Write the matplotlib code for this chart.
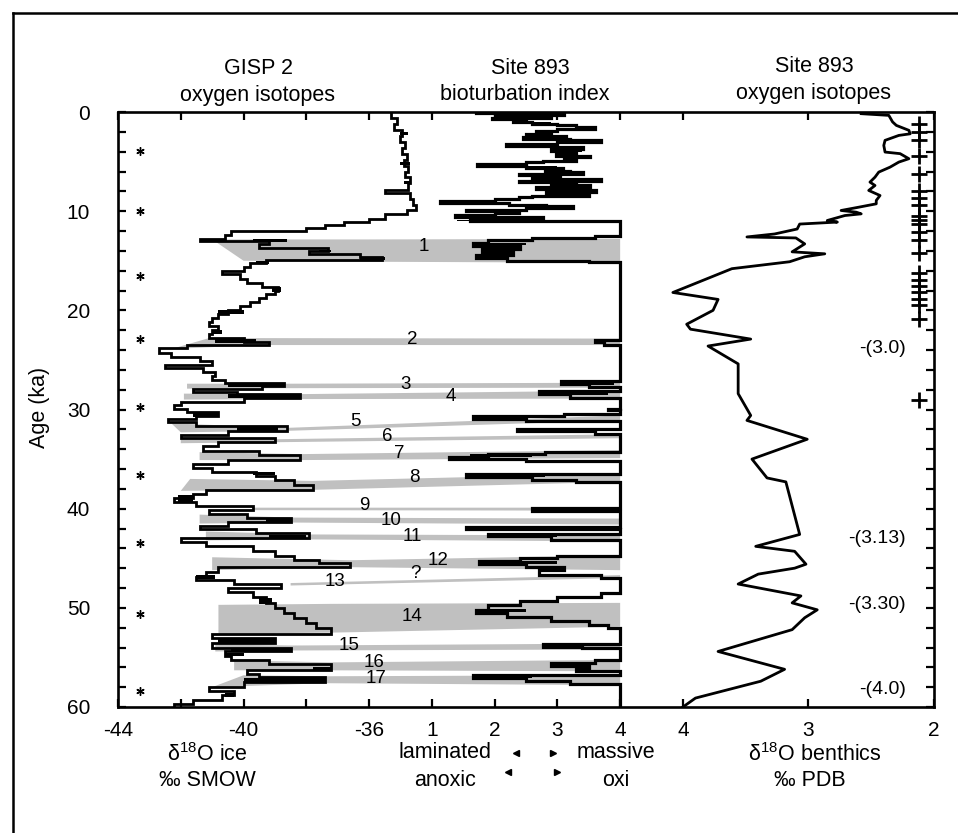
import numpy as np
import matplotlib
matplotlib.use("Agg")
import matplotlib.pyplot as plt
from matplotlib.lines import Line2D

plt.rcParams['font.family'] = ['Liberation Sans', 'DejaVu Sans']
plt.rcParams['mathtext.fontset'] = 'custom'
plt.rcParams['mathtext.rm'] = 'Liberation Sans'
plt.rcParams['mathtext.it'] = 'Liberation Sans'

# ---------------- data ----------------
# GISP2 d18O (per mil SMOW): step intervals (top age in ka, value)
gisp_age_top = [0.0,0.6,1.2,1.8,2.4,3.0,3.6,4.2,4.8,5.4,6.0,6.6,7.2,7.9,8.2,8.8,9.4,9.9,10.3,10.8,
                11.1,11.4,11.7,12.0,12.4,12.8,13.0,13.3,13.7,14.0,14.3,14.6,14.9,15.2,15.6,16.0,16.3,16.8,17.2,17.6,
                18.0,18.4,18.8,19.2,19.6,20.0,20.4,20.8,21.2,21.6,22.0,22.4,22.8,23.2,23.5,23.8,24.3,24.7,25.1,25.5,
                25.8,26.2,26.6,27.0,27.3,27.6,27.9,28.2,28.4,28.8,29.2,29.5,29.9,30.3,30.7,31.0,31.3,31.7,32.2,32.6,
                32.9,33.3,33.7,34.2,34.6,35.1,35.5,35.9,36.3,36.7,37.1,37.6,38.1,38.5,38.9,39.3,39.7,40.1,40.5,40.9,
                41.3,41.7,42.0,42.5,43.0,43.4,43.8,44.3,44.8,45.2,45.5,45.9,46.4,46.9,47.2,47.6,48.0,48.4,48.9,49.5,
                50.0,50.5,51.0,51.5,52.0,52.6,53.0,53.5,54.0,54.4,54.9,55.3,55.7,56.3,56.7,57.0,57.5,58.0,58.4,58.8,
                59.3,59.7]
gisp_d18o = [-35.3,-35.1,-35.2,-34.95,-35.0,-34.85,-34.95,-34.8,-34.9,-34.75,-34.85,-34.7,-34.75,-35.5,-34.7,-34.6,-34.5,-34.8,-35.5,-36.0,
             -36.8,-37.4,-38.0,-40.4,-40.6,-41.4,-39.2,-39.5,-37.3,-37.9,-36.3,-35.6,-39.3,-39.8,-40.0,-40.7,-40.1,-39.9,-39.4,-38.9,
             -39.0,-39.3,-39.5,-39.8,-40.1,-40.5,-40.8,-41.0,-41.1,-40.8,-41.0,-41.1,-40.0,-39.2,-41.8,-42.7,-42.3,-41.4,-41.0,-42.5,
             -41.3,-40.9,-41.0,-40.6,-38.7,-39.4,-41.6,-40.2,-38.2,-40.0,-42.0,-42.2,-41.8,-40.8,-41.5,-42.4,-41.5,-38.6,-40.5,-42.0,
             -39.0,-40.8,-41.3,-39.5,-38.2,-40.5,-41.6,-41.0,-39.6,-39.0,-38.4,-37.8,-41.2,-41.6,-42.2,-41.5,-39.7,-41.1,-39.9,-38.5,
             -40.5,-41.4,-39.6,-37.9,-42.0,-41.2,-39.7,-39.0,-38.4,-37.6,-36.6,-40.8,-41.2,-41.5,-40.3,-38.8,-40.5,-39.7,-39.3,-39.0,
             -38.7,-38.4,-38.0,-37.7,-37.2,-41.0,-39.0,-41.0,-38.5,-40.6,-40.4,-39.2,-37.2,-39.9,-39.5,-37.4,-40.0,-41.1,-40.3,-40.7,
             -41.6,-42.2]
gisp_age_end = 60.0

# dense-oscillation (solid black) segments of the GISP2 record
gblob_top   = [2.0,5.0,7.0,12.8,12.85,13.9,14.65,15.0,17.6,20.0,22.0,22.85,27.3,28.45,30.35,31.8,36.3,38.6,40.9,42.65,46.7,49.0,53.1,54.05,54.6,55.95,57.05,58.6]
gblob_bot   = [2.3,5.3,7.3,13.05,13.15,14.15,14.95,15.35,18.2,20.35,22.35,23.25,27.7,28.85,30.75,32.15,36.65,39.4,41.3,43.0,47.1,49.6,53.5,54.4,54.9,56.3,57.5,59.0]
gblob_left  = [-35.0,-35.0,-34.9,-41.4,-39.7,-37.6,-36.3,-39.6,-39.1,-40.8,-41.0,-40.9,-40.5,-40.5,-41.6,-40.2,-39.7,-42.1,-39.3,-39.2,-41.5,-39.5,-40.8,-40.4,-40.6,-37.8,-40.0,-40.6]
gblob_right = [-34.75,-34.7,-34.65,-40.7,-38.6,-37.2,-35.5,-39.2,-38.8,-40.0,-40.7,-39.6,-38.7,-38.2,-40.8,-38.9,-39.0,-41.6,-38.5,-38.0,-40.9,-39.1,-39.0,-38.5,-40.0,-37.2,-37.4,-40.3]

# Site 893 bioturbation index: step intervals (top age in ka, index 1-4)
bio_age_top = [0.0,0.15,0.3,0.45,0.6,0.75,0.9,1.05,1.2,1.35,1.5,1.7,1.9,2.05,2.2,2.4,2.55,2.7,2.85,3.05,
               3.2,3.4,3.55,3.75,3.9,4.1,4.25,4.4,4.56,4.75,4.9,5.07,5.25,5.4,5.6,5.75,5.9,6.05,6.24,6.4,
               6.58,6.75,6.91,7.1,7.25,7.4,7.6,7.75,7.9,8.1,8.26,8.45,8.6,8.76,8.95,9.2,9.35,9.5,9.67,9.85,
               10.0,10.15,10.35,10.55,10.8,10.95,12.5,12.7,12.95,13.2,13.5,13.8,14.1,14.4,14.7,15.0,15.15,23.0,23.2,23.5,
               27.15,27.4,27.7,28.15,28.45,28.8,29.9,30.1,30.5,30.7,30.95,31.15,32.0,32.2,32.5,34.3,34.5,34.8,35.0,35.2,
               36.55,36.8,37.1,37.3,39.95,40.2,41.8,42.0,42.1,42.6,42.8,43.2,44.8,45.0,45.3,45.6,45.9,46.2,46.7,47.0,
               48.5,48.9,49.3,49.7,50.2,50.5,50.9,51.3,51.7,52.0,53.6,53.9,54.1,55.3,55.6,55.9,56.2,56.4,56.8,57.1,
               57.4,57.7]
bio_index = [1.7,3.1,2.0,2.9,1.96,2.5,2.3,2.6,3.0,3.3,3.6,3.0,2.66,2.9,2.5,3.14,2.45,3.2,3.7,3.0,
             2.18,2.93,3.41,2.9,3.3,3.25,2.98,3.52,3.1,3.3,2.77,2.5,1.72,2.5,3.09,2.8,3.2,3.41,2.39,3.04,
             2.6,3.7,2.39,3.3,2.9,3.52,2.66,3.2,3.62,2.82,3.5,2.6,2.39,2.0,1.13,2.23,2.82,3.25,2.5,1.54,
             2.39,2.0,1.37,2.77,1.6,4.0,3.6,2.6,1.9,1.65,2.4,1.8,2.3,1.7,2.2,3.5,4.0,3.6,3.75,4.0,
             3.05,3.5,4.0,2.7,3.2,4.0,3.8,4.0,3.1,1.65,2.5,4.0,2.35,3.6,4.0,2.8,1.9,1.27,2.5,4.0,
             1.55,2.6,3.3,4.0,2.6,4.0,1.54,2.6,4.0,1.9,2.9,4.0,3.0,2.4,1.75,2.5,3.1,2.7,3.7,4.0,
             3.7,3.0,2.4,1.9,1.7,2.2,2.9,3.5,3.8,4.0,2.77,3.4,4.0,3.6,2.9,3.5,3.3,4.0,1.65,2.5,
             3.2,4.0]
bio_age_end = 60.0

# dense-oscillation (solid black) segments of the bioturbation record
bblob_top   = [0.05,1.05,2.6,3.95,4.2,5.45,6.25,7.35,7.55,8.05,10.65,10.85,13.2,13.8,14.45,27.3,28.3,30.7,34.5,36.6,42.7,45.3,50.1,56.85]
bblob_bot   = [0.2,1.17,2.72,4.08,4.32,5.57,6.37,7.47,7.67,8.17,10.77,10.95,13.4,14.0,14.65,27.5,28.55,30.9,34.8,36.8,42.9,45.6,50.45,57.1]
bblob_left  = [1.9,2.3,2.6,2.9,3.0,2.4,2.5,3.0,2.8,2.9,1.5,1.4,1.7,1.8,1.75,3.1,2.75,1.7,1.6,1.6,2.0,1.8,1.75,1.7]
bblob_right = [3.0,2.9,3.1,3.4,3.3,3.0,3.2,3.4,3.3,3.4,2.7,2.6,2.5,2.4,2.2,3.9,3.8,2.4,2.6,2.8,3.0,3.0,2.5,2.6]

# Site 893 benthic d18O (per mil PDB)
ben_age = [0.17,0.34,1.0,1.35,1.85,2.2,2.36,2.86,3.37,4.04,4.2,4.71,5.05,5.56,6.06,6.57,7.07,7.41,7.91,8.42,
           8.92,9.26,9.6,9.93,10.1,10.27,10.44,10.94,11.1,11.3,11.8,12.3,12.6,12.7,13.3,14.1,14.3,14.6,15.1,15.8,
           18.2,18.9,20.0,21.4,21.9,22.9,23.6,25.4,28.4,30.6,31.1,33.0,35.0,36.9,37.3,42.6,43.8,44.3,45.6,46.0,
           46.6,47.6,48.8,49.5,50.2,51.0,52.2,54.4,56.2,57.4,59.1,60.0]
ben_d18o = [2.58,2.36,2.33,2.30,2.20,2.19,2.28,2.39,2.40,2.39,2.27,2.20,2.28,2.35,2.44,2.47,2.51,2.47,2.52,2.43,
            2.46,2.46,2.60,2.74,2.62,2.58,2.71,2.85,2.77,3.07,3.09,3.27,3.49,3.10,3.03,3.13,2.87,3.03,3.15,3.61,
            4.08,3.72,3.76,3.97,3.94,3.46,3.80,3.56,3.56,3.46,3.49,3.01,3.45,3.33,3.18,3.07,3.42,3.11,3.02,3.11,
            3.40,3.56,3.06,3.13,2.93,3.03,3.13,3.72,3.19,3.38,3.90,4.00]

# radiocarbon dates (+) and GISP2 annual-layer markers (*)
date_age = [1.2,2.0,2.8,4.4,6.3,8.0,8.7,9.4,10.5,10.9,11.3,12.1,12.9,14.2,16.2,16.9,17.5,18.2,18.9,19.5,20.9,29.0]
date_pos = 2.12
star_age = [3.9,10.0,16.5,22.9,29.7,36.6,43.5,50.6,58.4]
star_pos = -43.3

# interstadial correlation bands 1-17
band_names  = ['1','2','3','4','5','6','7','8','9','10','11','12','13','14','15','16','17']
band_xl_top = [-41.0,-41.1,-41.8,-41.9,-42.3,-42.0,-41.4,-41.7,-39.7,-41.4,-41.2,-41.0,-38.5,-40.8,-40.9,-40.3,-40.0]
band_xl_bot = [-40.0,-42.3,-41.8,-41.9,-42.0,-42.0,-41.4,-42.0,-39.7,-41.4,-41.2,-41.0,-38.5,-40.8,-40.9,-40.3,-41.0]
band_age_tl = [12.85,22.8,27.4,28.4,31.4,32.8,34.3,37.0,39.9,40.6,42.3,44.9,47.5,49.7,53.7,55.3,56.8]
band_age_bl = [15.0,23.9,27.9,29.0,32.3,33.4,35.1,38.2,40.15,41.5,43.2,46.2,47.75,52.6,54.4,56.3,58.0]
band_xw     = [-36.0,-39.6,-38.7,-38.2,-38.6,-39.0,-38.2,-37.8,-39.7,-38.45,-37.9,-36.6,-38.5,-37.2,-38.45,-37.2,-37.4]
band_age_tw = [12.85,22.8,27.4,28.45,31.85,33.0,34.5,37.2,39.9,40.9,42.6,45.2,47.5,49.6,53.8,55.5,56.9]
band_age_bw = [15.1,23.5,27.85,28.95,32.15,33.3,35.1,38.1,40.15,41.4,43.1,45.9,47.75,52.5,54.3,56.3,57.6]
band_age_tr = [12.8,22.85,27.3,28.1,30.6,32.5,34.1,36.45,39.9,41.0,42.7,44.7,46.7,49.5,53.6,55.25,56.8]
band_age_br = [15.2,23.5,27.8,28.9,31.1,32.9,34.9,37.3,40.2,41.6,43.3,46.2,47.0,51.9,54.2,56.4,57.8]
band_lab_x  = [-34.25,-34.62,-34.83,-33.39,-36.43,-35.42,-35.04,-34.57,-36.16,-35.31,-34.62,-33.81,-37.07,-34.62,-36.64,-35.84,-35.79]
band_lab_age= [13.6,22.97,27.5,28.7,31.2,32.75,34.4,36.9,39.7,41.2,42.8,45.2,47.3,50.9,53.8,55.5,57.1]
query_x, query_age = -34.51, 46.5

# benthic stage values written at right
right_labels = ['-(3.0)', '-(3.13)', '-(3.30)', '-(4.0)']
right_label_age = [23.8, 43.0, 49.7, 58.2]

gisp_ticks = [-44, -42, -40, -38, -36]
gisp_ticklabels = ['-44', '', '-40', '', '-36']
bio_ticks = [1, 2, 3, 4]
ben_ticks = [4, 3, 2]

# --------- common x scale: GISP2 units; other panels mapped linearly ---------
def bio_to_x(b):
    return 2.0 * np.asarray(b, float) - 36.0      # 1 -> -34, 4 -> -28

def ben_to_x(d):
    return -10.0 - 4.0 * np.asarray(d, float)     # 4 -> -26, 2 -> -18

def step_xy(tops, vals, end):
    bounds = np.append(np.asarray(tops, float), end)
    y = np.repeat(bounds, 2)[1:-1]
    x = np.repeat(np.asarray(vals, float), 2)
    return x, y

W, H = 958, 833
fig = plt.figure(figsize=(W / 100, H / 100), dpi=100)
x0, x1, y0, y1 = 118, 934, 112, 707
ax = fig.add_axes([x0 / W, 1 - y1 / H, (x1 - x0) / W, (y1 - y0) / H])
ax.set_xlim(-44, -18)
ax.set_ylim(60, 0)

gray = '#c0c0c0'
xr = bio_to_x(4)
for i in range(len(band_names)):
    px = [band_xl_top[i], band_xw[i], xr, xr, band_xw[i], band_xl_bot[i]]
    py = [band_age_tl[i], band_age_tw[i], band_age_tr[i], band_age_br[i], band_age_bw[i], band_age_bl[i]]
    ax.fill(px, py, color=gray, lw=0, zorder=1)

# GISP2
gx, gy = step_xy(gisp_age_top, gisp_d18o, gisp_age_end)
ax.plot(gx, gy, color='k', lw=2.0, zorder=3, solid_joinstyle='miter')
for t, b, l, r in zip(gblob_top, gblob_bot, gblob_left, gblob_right):
    ax.fill_betweenx([t, b], l, r, color='k', lw=0, zorder=3)

# bioturbation
bx, by = step_xy(bio_age_top, bio_to_x(bio_index), bio_age_end)
ax.plot(bx, by, color='k', lw=2.3, zorder=3, solid_joinstyle='miter')
for t, b, l, r in zip(bblob_top, bblob_bot, bblob_left, bblob_right):
    ax.fill_betweenx([t, b], bio_to_x(l), bio_to_x(r), color='k', lw=0, zorder=3)

# benthic
ax.plot(ben_to_x(ben_d18o), ben_age, color='k', lw=2.0, zorder=3)
ax.plot(np.full(len(date_age), float(ben_to_x(date_pos))), date_age, ls='none',
        marker='+', ms=12, mew=2.0, color='k', zorder=4)
ax.plot(np.full(len(star_age), star_pos), star_age, ls='none',
        marker=(6, 2, 0), ms=6, mew=1.0, color='k', zorder=4)

# band numbers
for name, lx, la in zip(band_names, band_lab_x, band_lab_age):
    ax.text(lx, la, name, fontsize=13.5, ha='center', va='center', zorder=5)
ax.text(query_x, query_age, '?', fontsize=13.5, ha='center', va='center', zorder=5)

for lab, a in zip(right_labels, right_label_age):
    ax.text(-18.9, a, lab, fontsize=14, ha='right', va='center', zorder=5)

# ticks
xt = list(gisp_ticks) + list(bio_to_x(bio_ticks)) + list(ben_to_x(ben_ticks))
xl = gisp_ticklabels + [str(b) for b in bio_ticks] + [str(d) for d in ben_ticks]
ax.set_xticks(xt)
ax.set_xticklabels(xl)
yt = np.arange(0, 61, 2)
ax.set_yticks(yt)
ax.set_yticklabels([str(v) if v % 10 == 0 else '' for v in yt])
ax.tick_params(axis='both', direction='in', length=6, width=1.6, top=True, right=True,
               labelsize=15)
ax.tick_params(axis='x', pad=10)
ax.tick_params(axis='y', pad=20)
for s in ax.spines.values():
    s.set_linewidth(1.9)

def ftext(x, y, s, **kw):
    fig.text(x / W, 1 - y / H, s, **kw)

fs = 15.5
ftext(258, 69, 'GISP 2', fontsize=fs, ha='center', va='center')
ftext(258, 95, 'oxygen isotopes', fontsize=fs, ha='center', va='center')
ftext(530, 69, 'Site 893', fontsize=fs, ha='center', va='center')
ftext(525, 95, 'bioturbation index', fontsize=fs, ha='center', va='center')
ftext(814, 67, 'Site 893', fontsize=fs, ha='center', va='center')
ftext(814, 93, 'oxygen isotopes', fontsize=fs, ha='center', va='center')

ftext(40, 407, 'Age (ka)', fontsize=fs, ha='center', va='center', rotation=90)

ftext(207, 755, 'δ$^{18}$O ice', fontsize=fs, ha='center', va='center')
ftext(207, 780, '‰ SMOW', fontsize=fs, ha='center', va='center')
ftext(492, 753, 'laminated', fontsize=fs, ha='right', va='center')
ftext(577, 753, 'massive', fontsize=fs, ha='left', va='center')
ftext(476, 780, 'anoxic', fontsize=fs, ha='right', va='center')
ftext(602, 780, 'oxi', fontsize=fs, ha='left', va='center')
ftext(815, 755, 'δ$^{18}$O benthics', fontsize=fs, ha='center', va='center')
ftext(810, 780, '‰ PDB', fontsize=fs, ha='center', va='center')

for (px, py, m) in [(516, 753, '<'), (553, 753, '>'), (508, 772, '<'), (557, 772, '>')]:
    fig.add_artist(Line2D([px / W], [1 - py / H], marker=m, ms=4, color='k', ls='none'))

# outer frame (only top and left edges fall inside the picture)
fig.add_artist(Line2D([13 / W, 13 / W], [0, 1 - 13 / H], color='k', lw=1.8))
fig.add_artist(Line2D([13 / W, 1], [1 - 13 / H, 1 - 13 / H], color='k', lw=1.8))

fig.savefig('out.png', dpi=100)
